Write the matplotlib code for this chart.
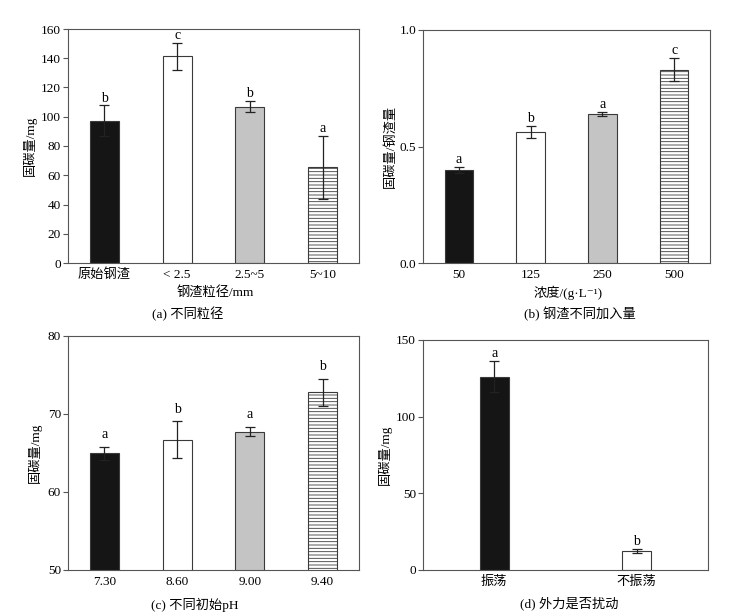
import numpy as np
import matplotlib
matplotlib.use("Agg")
import matplotlib.pyplot as plt

plt.rcParams['font.family'] = ['Liberation Serif', 'Noto Sans CJK SC', 'DejaVu Sans']
plt.rcParams['hatch.linewidth'] = 0.6
plt.rcParams['axes.unicode_minus'] = False

# ── Data ────────────────────────────────────────────────────────
a_labels = ['原始钢渣', '< 2.5', '2.5~5', '5~10']
a_values = [97.4, 141.3, 107.0, 65.4]
a_errors = [10.3, 9.2, 3.9, 21.7]
a_letters = ['b', 'c', 'b', 'a']

b_labels = ['50', '125', '250', '500']
b_values = [0.401, 0.564, 0.640, 0.829]
b_errors = [0.013, 0.026, 0.009, 0.049]
b_letters = ['a', 'b', 'a', 'c']

c_labels = ['7.30', '8.60', '9.00', '9.40']
c_values = [64.96, 66.67, 67.74, 72.78]
c_errors = [0.81, 2.37, 0.62, 1.73]
c_letters = ['a', 'b', 'a', 'b']

d_labels = ['振荡', '不振荡']
d_values = [126.1, 12.4]
d_errors = [10.0, 1.2]
d_letters = ['a', 'b']

# bar styles: (facecolor, hatch)
STYLES = [('#151515', None), ('white', None), ('#c4c4c4', None), ('white', '-----')]
EDGE = '#3a3a3a'
SPINE = '#555555'
FS_TICK = 9.5
FS_LAB = 9.5


def draw_panel(ax, labels, values, errors, letters, ylim, yticks, width,
               xtick_in=False, letter_off=0.0):
    x = np.arange(len(values))
    for i in range(len(values)):
        fc, hatch = STYLES[i]
        ax.bar(x[i], values[i], width=width, color=fc, edgecolor=EDGE,
               linewidth=0.8, hatch=hatch, zorder=2, bottom=0)
    ax.errorbar(x, values, yerr=errors, fmt='none', ecolor='#222222',
                elinewidth=0.9, capsize=3.5, capthick=0.9, zorder=3)
    span = ylim[1] - ylim[0]
    for i in range(len(values)):
        ax.text(x[i], values[i] + errors[i] + span * (0.004 + letter_off), letters[i],
                ha='center', va='bottom', fontsize=FS_LAB + 0.5, zorder=4)
    ax.set_xlim(-0.5, len(values) - 0.5)
    ax.set_ylim(*ylim)
    ax.set_yticks(yticks)
    ax.set_xticks(x)
    ax.set_xticklabels(labels, fontsize=FS_TICK)
    ax.tick_params(axis='y', direction='out', length=3.5, width=0.8,
                   color=SPINE, labelsize=FS_TICK, pad=1.5)
    if xtick_in:
        ax.tick_params(axis='x', direction='in', length=5, width=0.8,
                       color=SPINE, labelsize=FS_TICK, pad=4)
    else:
        ax.tick_params(axis='x', length=0, labelsize=FS_TICK, pad=4)
    for s in ax.spines.values():
        s.set_color(SPINE)
        s.set_linewidth(0.8)


fig = plt.figure(figsize=(7.43, 6.16), dpi=100)
W, H = 743.0, 616.0


def axes_px(l, t, r, b):
    return fig.add_axes([l / W, 1 - b / H, (r - l) / W, (b - t) / H])


ax_a = axes_px(68, 29, 359, 263)
ax_b = axes_px(423, 30, 710, 263)
ax_c = axes_px(68, 336, 359, 570)
ax_d = axes_px(423, 340, 708, 570)

draw_panel(ax_a, a_labels, a_values, a_errors, a_letters,
           (0, 160), np.arange(0, 161, 20), 0.4)
ax_a.set_ylabel('固碳量/mg', fontsize=FS_LAB, labelpad=3)

draw_panel(ax_b, b_labels, b_values, b_errors, b_letters,
           (0, 1.0), [0.0, 0.5, 1.0], 0.4, xtick_in=True)
ax_b.set_yticklabels(['0.0', '0.5', '1.0'])
ax_b.set_ylabel('固碳量/钢渣量', fontsize=FS_LAB, labelpad=2)

draw_panel(ax_c, c_labels, c_values, c_errors, c_letters,
           (50, 80), [50, 60, 70, 80], 0.4, xtick_in=True, letter_off=0.02)
ax_c.set_ylabel('固碳量/mg', fontsize=FS_LAB, labelpad=4)

draw_panel(ax_d, d_labels, d_values, d_errors, d_letters,
           (0, 150), [0, 50, 100, 150], 0.206)
ax_d.set_ylabel('固碳量/mg', fontsize=FS_LAB, labelpad=3)

# x labels and captions
fig.text(215 / W, 1 - 293 / H, '钢渣粒径/mm', ha='center', va='center', fontsize=FS_LAB)
fig.text(188 / W, 1 - 314 / H, '(a) 不同粒径', ha='center', va='center', fontsize=FS_LAB)
fig.text(568 / W, 1 - 293 / H, '浓度/(g·L⁻¹)', ha='center', va='center', fontsize=FS_LAB)
fig.text(580 / W, 1 - 314 / H, '(b) 钢渣不同加入量', ha='center', va='center', fontsize=FS_LAB)
fig.text(195 / W, 1 - 605 / H, '(c) 不同初始pH', ha='center', va='center', fontsize=FS_LAB)
fig.text(569 / W, 1 - 603 / H, '(d) 外力是否扰动', ha='center', va='center', fontsize=FS_LAB)

fig.savefig('out.png', dpi=100)
